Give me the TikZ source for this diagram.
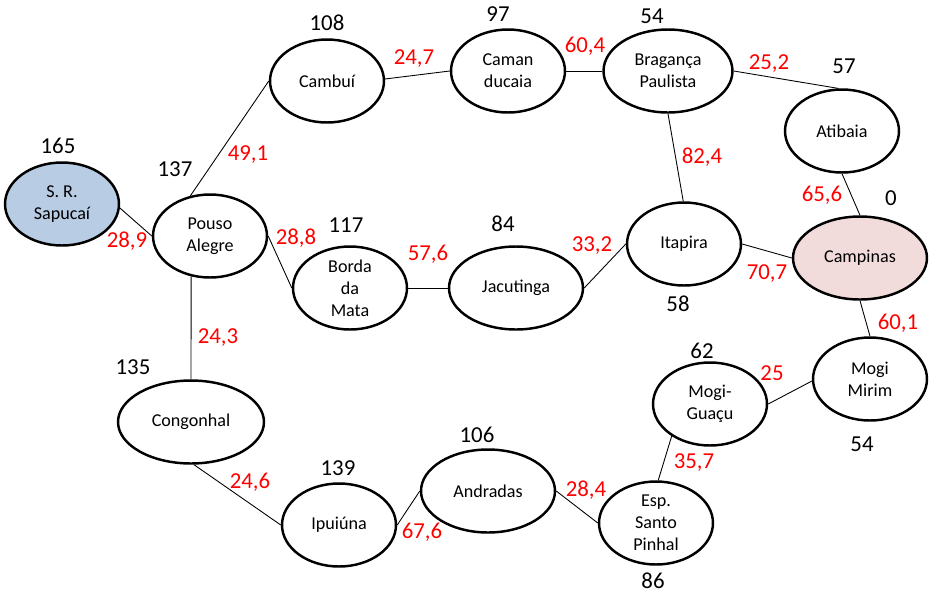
\documentclass[tikz,border=0pt]{standalone}
\usepackage{fontspec}
\setmainfont{Carlito}
\usetikzlibrary{shapes}
\definecolor{sapblue}{RGB}{184,204,228}
\definecolor{campink}{RGB}{242,220,219}

\begin{document}
\begin{tikzpicture}[x=0.02cm,y=-0.02cm,
  city/.style={draw, ellipse, line width=1.4pt, inner sep=0pt, minimum width=2.28cm,
    minimum height=1.66cm, align=center, font=\fontsize{10.3}{12.4}\selectfont},
  wide/.style={minimum width=2.68cm},
  road/.style={line width=0.5pt},
  hval/.style={font=\fontsize{13}{13}\selectfont},
  dist/.style={hval, text=red}]
\useasboundingbox (0,0) rectangle (937,596);

\node[city, fill=sapblue] (sapucai) at (62,204) {S. R.\\Sapucaí};
\node[city] (pouso) at (210,236) {Pouso\\Alegre};
\node[city] (cambui) at (327,81) {Cambuí};
\node[city] (caman) at (508,71) {Caman\\ducaia};
\node[city, minimum width=2.58cm] (braganca) at (668,71) {Bragança\\Paulista};
\node[city] (atibaia) at (842,131) {Atibaia};
\node[city, wide, fill=campink] (campinas) at (860,258) {Campinas};
\node[city] (itapira) at (684,244) {Itapira};
\node[city, wide] (jacutinga) at (516,288) {Jacutinga};
\node[city] (borda) at (350,288) {Borda\\da\\Mata};
\node[city, minimum width=2.92cm] (congonhal) at (191,422) {Congonhal};
\node[city] (ipuiuna) at (339,525) {Ipuiúna};
\node[city, wide] (andradas) at (488,491) {Andradas};
\node[city] (pinhal) at (656,523) {Esp.\\Santo\\Pinhal};
\node[city] (guacu) at (710,404) {Mogi-\\Guaçu};
\node[city] (mirim) at (870,379) {Mogi\\Mirim};

% estradas
\foreach \a/\b in {sapucai.-4/pouso.180, pouso.116/cambui.180, pouso.0/borda.180,
  pouso.245/congonhal.90, cambui.2/caman.180, caman.0/braganca.180,
  braganca.0/atibaia.95, braganca.270/itapira.91, atibaia.270/campinas.90,
  itapira.0/campinas.180, jacutinga.0/itapira.180, borda.0/jacutinga.180,
  campinas.270/mirim.90, mirim.182/guacu.0, pinhal.87/guacu.220,
  andradas.0/pinhal.180, ipuiuna.0/andradas.180, congonhal.274/ipuiuna.180}
  \draw[road] (\a) -- (\b);

% heuristica
\node[hval] (h-sapucai) at (58,146) {165};
\node[hval] (h-pouso) at (175,169) {137};
\node[hval] (h-cambui) at (327,23) {108};
\node[hval] (h-caman) at (498,14) {97};
\node[hval] (h-braganca) at (652,16) {54};
\node[hval] (h-atibaia) at (844,66) {57};
\node[hval] (h-campinas) at (891,198) {0};
\node[hval] (h-borda) at (346,225) {117};
\node[hval] (h-jacutinga) at (503,224) {84};
\node[hval] (h-itapira) at (678,304) {58};
\node[hval] (h-congonhal) at (133,367) {135};
\node[hval] (h-ipuiuna) at (338,468) {139};
\node[hval] (h-andradas) at (477,435) {106};
\node[hval] (h-guacu) at (702,351) {62};
\node[hval] (h-mirim) at (862,444) {54};
\node[hval] (h-pinhal) at (653,581) {86};

% distancias
\node[dist] (d-sap-pouso) at (127,241) {28,9};
\node[dist] (d-pouso-cambui) at (248,155) {49,1};
\node[dist] (d-pouso-borda) at (296,238) {28,8};
\node[dist] (d-pouso-cong) at (218,338) {24,3};
\node[dist] (d-cambui-caman) at (414,59) {24,7};
\node[dist] (d-caman-brag) at (585,46) {60,4};
\node[dist] (d-brag-atib) at (769,64) {25,2};
\node[dist] (d-brag-itap) at (702,157) {82,4};
\node[dist] (d-atib-camp) at (822,195) {65,6};
\node[dist] (d-itap-camp) at (767,274) {70,7};
\node[dist] (d-jac-itap) at (592,246) {33,2};
\node[dist] (d-borda-jac) at (428,254) {57,6};
\node[dist] (d-camp-mirim) at (898,323) {60,1};
\node[dist] (d-mirim-guacu) at (772,373) {25};
\node[dist] (d-pinhal-guacu) at (694,463) {35,7};
\node[dist] (d-andr-pinhal) at (586,490) {28,4};
\node[dist] (d-ipu-andr) at (422,532) {67,6};
\node[dist] (d-cong-ipu) at (250,482) {24,6};
\end{tikzpicture}
\end{document}
